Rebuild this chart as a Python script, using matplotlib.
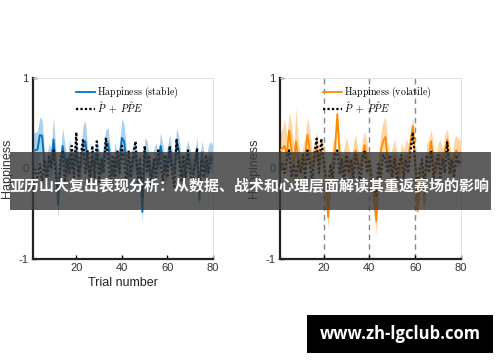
import matplotlib
matplotlib.use("Agg")
import matplotlib.pyplot as plt
import numpy as np
from matplotlib.patches import Rectangle

plt.rcParams['font.family'] = ['Liberation Sans', 'DejaVu Sans']
plt.rcParams['mathtext.fontset'] = 'cm'
plt.rcParams['axes.unicode_minus'] = False

trials = np.arange(1, 81)

stable_mean = [0.20, 0.20, 0.21, 0.37, 0.36, 0.05, -0.05, 0.10, 0.05, 0.32,
               0.05, -0.40, 0.00, 0.25, 0.10, -0.05, 0.15, 0.00, 0.08, 0.20,
               -0.05, 0.05, 0.28, 0.30, 0.05, -0.10, 0.10, 0.02, 0.15, 0.05,
               -0.05, 0.12, 0.25, 0.28, 0.05, -0.08, 0.12, 0.00, 0.10, 0.34,
               0.30, 0.05, -0.10, 0.02, 0.10, 0.15, -0.05, 0.00, -0.48, 0.20,
               0.15, 0.00, -0.10, 0.05, 0.12, 0.02, 0.25, 0.10, -0.05, 0.08,
               0.22, 0.05, -0.05, 0.30, 0.20, 0.00, -0.10, 0.05, 0.15, 0.05,
               -0.05, 0.02, 0.22, -0.35, 0.18, 0.05, -0.05, 0.10, 0.15, 0.10]
stable_err = [0.20, 0.20, 0.20, 0.20, 0.18, 0.15, 0.16, 0.18, 0.17, 0.25,
              0.16, 0.15, 0.16, 0.20, 0.17, 0.15, 0.18, 0.16, 0.17, 0.18,
              0.15, 0.17, 0.20, 0.23, 0.16, 0.15, 0.17, 0.15, 0.18, 0.16,
              0.15, 0.17, 0.18, 0.17, 0.16, 0.15, 0.17, 0.15, 0.18, 0.22,
              0.18, 0.16, 0.15, 0.16, 0.17, 0.16, 0.15, 0.16, 0.12, 0.14,
              0.16, 0.15, 0.15, 0.16, 0.17, 0.15, 0.15, 0.16, 0.15, 0.16,
              0.15, 0.16, 0.15, 0.15, 0.16, 0.15, 0.15, 0.16, 0.16, 0.15,
              0.15, 0.16, 0.14, 0.08, 0.13, 0.15, 0.15, 0.16, 0.15, 0.15]
stable_model = [0.00, -0.05, -0.10, 0.05, -0.15, 0.10, -0.20, 0.15, 0.00, 0.20,
                -0.10, -0.25, 0.10, 0.18, -0.15, 0.10, -0.05, 0.25, -0.10, 0.40,
                -0.20, 0.15, 0.33, -0.05, 0.20, -0.20, 0.25, -0.10, 0.30, -0.15,
                0.10, -0.05, 0.34, 0.10, -0.20, 0.15, -0.10, 0.20, -0.05, 0.25,
                0.05, -0.15, 0.20, -0.10, 0.15, 0.30, -0.15, 0.10, -0.30, 0.25,
                -0.05, 0.15, -0.20, 0.10, -0.10, 0.20, 0.05, -0.15, 0.15, -0.10,
                0.25, -0.05, -0.20, 0.33, 0.10, -0.15, 0.15, -0.10, 0.20, -0.05,
                -0.20, 0.05, 0.22, -0.25, 0.10, -0.10, 0.15, -0.05, 0.10, 0.05]

volatile_mean = [0.20, 0.22, 0.25, 0.15, 0.42, 0.20, 0.05, 0.30, 0.10, -0.05,
                 0.05, 0.15, 0.37, 0.20, 0.00, 0.10, 0.25, 0.05, 0.20, 0.10,
                 -0.20, -0.54, -0.10, 0.10, 0.20, 0.60, 0.15, -0.05, 0.05, 0.15,
                 0.05, -0.10, 0.10, 0.20, 0.05, 0.00, 0.15, 0.26, 0.10, 0.00,
                 -0.15, -0.30, -0.58, -0.10, 0.20, 0.30, 0.35, 0.10, -0.05, 0.05,
                 0.15, 0.00, -0.10, 0.10, 0.05, 0.15, 0.10, 0.30, 0.47, 0.10,
                 -0.47, -0.15, 0.05, -0.40, 0.10, 0.15, 0.30, 0.05, -0.05, 0.10,
                 0.15, 0.05, 0.20, 0.32, 0.10, -0.05, 0.15, 0.20, 0.15, 0.18]
volatile_err = [0.20, 0.22, 0.30, 0.20, 0.20, 0.30, 0.20, 0.37, 0.22, 0.18,
                0.20, 0.22, 0.20, 0.22, 0.18, 0.20, 0.15, 0.18, 0.15, 0.18,
                0.15, 0.13, 0.16, 0.18, 0.15, 0.08, 0.18, 0.16, 0.18, 0.20,
                0.18, 0.16, 0.18, 0.18, 0.17, 0.16, 0.18, 0.15, 0.18, 0.16,
                0.15, 0.15, 0.16, 0.16, 0.20, 0.22, 0.22, 0.20, 0.17, 0.18,
                0.18, 0.16, 0.17, 0.18, 0.16, 0.18, 0.17, 0.15, 0.10, 0.17,
                0.06, 0.15, 0.16, 0.12, 0.17, 0.18, 0.14, 0.17, 0.16, 0.18,
                0.17, 0.16, 0.18, 0.12, 0.17, 0.16, 0.18, 0.17, 0.16, 0.15]
volatile_model = [0.00, 0.05, -0.05, 0.10, 0.20, -0.10, 0.05, -0.15, 0.10, -0.05,
                  0.15, -0.10, 0.20, 0.05, -0.15, 0.15, 0.33, -0.05, 0.33, 0.10,
                  -0.10, -0.25, 0.05, -0.10, 0.15, 0.20, -0.05, 0.10, -0.15, 0.15,
                  -0.05, 0.10, -0.10, 0.15, 0.05, -0.15, 0.10, 0.20, -0.05, 0.10,
                  -0.10, -0.20, -0.30, 0.05, -0.10, 0.15, 0.10, -0.05, 0.15, -0.10,
                  0.10, -0.15, 0.05, 0.15, -0.10, 0.10, -0.05, 0.20, 0.40, 0.05,
                  -0.25, 0.00, 0.10, -0.20, 0.15, -0.05, 0.20, -0.10, 0.05, 0.15,
                  -0.10, 0.10, -0.05, 0.29, -0.05, 0.10, -0.10, 0.15, 0.05, 0.10]

change_points = [20, 40, 60]
x_ticks = [20, 40, 60, 80]
y_ticks = [-1, 0, 1]
title_text = "亚历山大复出表现分析：从数据、战术和心理层面解读其重返赛场的影响"
watermark_text = "www.zh-lgclub.com"

W, H = 500, 362
fig = plt.figure(figsize=(W / 100, H / 100), dpi=100)


def setup(ax, xlabel):
    ax.set_xlim(1, 80)
    ax.set_ylim(-1, 1)
    ax.set_xticks(x_ticks)
    ax.set_yticks(y_ticks)
    ax.tick_params(direction='in', length=3, width=1, labelsize=8, pad=3,
                   labelcolor='#333333')
    for s in ['left', 'bottom']:
        ax.spines[s].set_linewidth(1.6)
        ax.spines[s].set_color('#222222')
    for s in ['top', 'right']:
        ax.spines[s].set_linewidth(0.6)
        ax.spines[s].set_color('#dddddd')
    ax.set_ylabel('Happiness', fontsize=9, labelpad=4, color='#333333')
    if xlabel:
        ax.set_xlabel('Trial number', fontsize=9, labelpad=3, color='#222222')


def panel(rect, mean, err, model, line_c, fill_c, label, xlabel, vlines):
    ax = fig.add_axes(rect)
    mean = np.array(mean)
    err = np.array(err)
    if vlines:
        for cp in vlines:
            ax.axvline(cp, color='#888888', ls=(0, (4, 3)), lw=1.0, zorder=1)
    ax.fill_between(trials, mean - err, mean + err, color=fill_c, lw=0, zorder=2)
    l1, = ax.plot(trials, mean, color=line_c, lw=1.3, zorder=3)
    l2, = ax.plot(trials, model, color='black', lw=1.6, ls=(0, (1, 1)), zorder=4)
    ax.legend([l1, l2], [label, r'$\hat{P}\ +\ P\hat{P}E$'], loc='upper left',
              bbox_to_anchor=(0.2, 1.0), frameon=False, fontsize=7.2,
              handlelength=1.9, handletextpad=0.2, labelspacing=0.0,
              borderaxespad=0.3)
    setup(ax, xlabel)
    return ax


ax1 = panel([33 / W, 1 - 259 / H, 180 / W, 181 / H], stable_mean, stable_err,
            stable_model, '#0072BD', '#A9D0EE',
            r'$\mathrm{Happiness\ (stable)}$', True, None)
ax2 = panel([280 / W, 1 - 259 / H, 181 / W, 181 / H], volatile_mean, volatile_err,
            volatile_model, '#FF8A00', '#FFD6A3',
            r'$\mathrm{Happiness\ (volatile)}$', False, change_points)

# banner
fig.add_artist(Rectangle((10 / W, 1 - 210 / H), 481 / W, 58 / H,
                         transform=fig.transFigure, facecolor='#3a3a3a',
                         alpha=0.82, edgecolor='none', zorder=10))
fig.text(250 / W, 1 - 185 / H, title_text, color='white', fontsize=10.8,
         fontweight='bold', ha='center', va='center', zorder=11,
         family=['Noto Sans CJK SC', 'DejaVu Sans'])

# watermark box
fig.add_artist(Rectangle((307 / W, 1 - 353 / H), 186 / W, 38 / H,
                         transform=fig.transFigure, facecolor='black',
                         edgecolor='none', zorder=10))
fig.text(400 / W, 1 - 334 / H, watermark_text, color='white', fontsize=12,
         fontweight='bold', ha='center', va='center', zorder=11,
         family=['Open Sans', 'DejaVu Sans'])

fig.savefig('out.png', dpi=100)
